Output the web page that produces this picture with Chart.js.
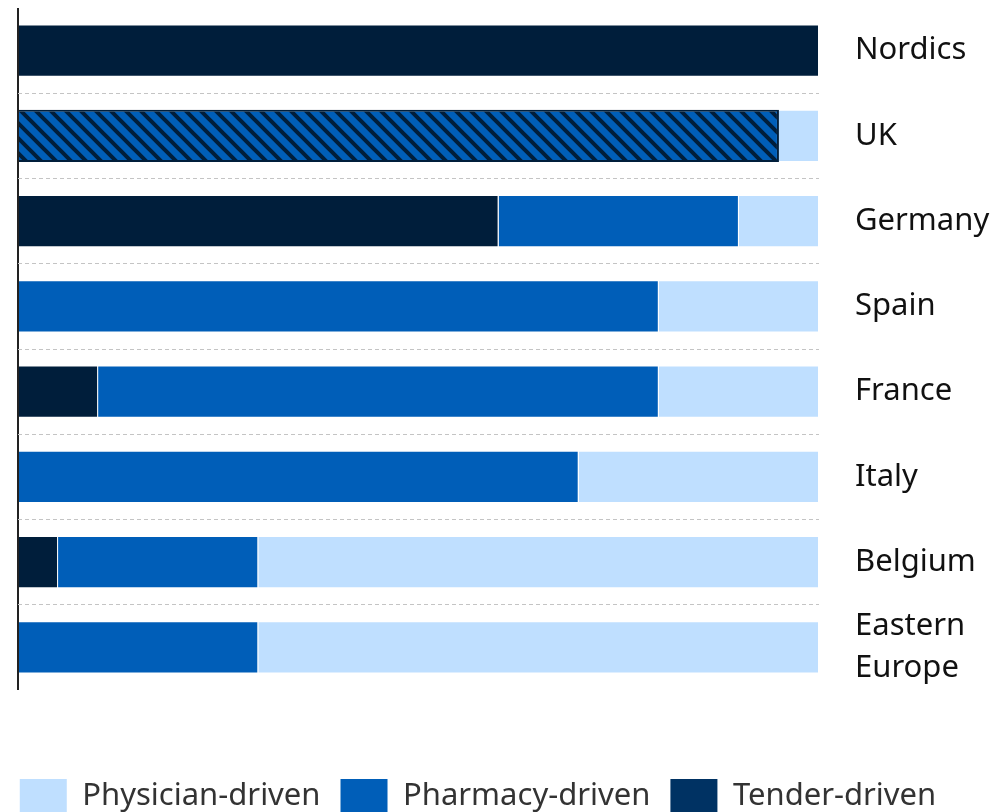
<!DOCTYPE html>
<html>
<head>
<meta charset="utf-8">
<script src="https://cdn.jsdelivr.net/npm/chart.js@4"></script>
<style>
  html, body { margin: 0; padding: 0; background: #fff; }
  #wrap { width: 997px; height: 812px; }
</style>
</head>
<body>
<div id="wrap"><canvas id="chart"></canvas></div>
<script>
// market access channel split by region (%)
const regions = ['Nordics', 'UK', 'Germany', 'Spain', 'France', 'Italy', 'Belgium', ['Eastern', 'Europe']];
const tenderDriven    = [100, 0, 60, 0, 10, 0, 5, 0];
const mixedDriven     = [0, 95, 0, 0, 0, 0, 0, 0];   // UK: hatched pharmacy/tender
const pharmacyDriven  = [0, 0, 30, 80, 70, 70, 25, 30];
const physicianDriven = [0, 5, 10, 20, 20, 30, 70, 70];

const colPhysician = '#bfdfff';
const colPharmacy = '#005eb8';
const colTender = '#001e3b';
const colTenderLegend = '#003263';

function makeHatch() {
    const c = document.createElement('canvas');
    c.width = 15; c.height = 15;
    const g = c.getContext('2d');
    g.fillStyle = colPharmacy;
    g.fillRect(0, 0, 15, 15);
    g.strokeStyle = colTender;
    g.lineWidth = 4;
    g.beginPath();
    g.moveTo(-15, -15); g.lineTo(30, 30);
    g.moveTo(-15, 0); g.lineTo(15, 30);
    g.moveTo(0, -15); g.lineTo(30, 15);
    g.stroke();
    return g.createPattern(c, 'repeat');
}

// legend sits a bit left of centre in the original
const legendShift = {
    id: 'legendShift',
    afterLayout: (chart) => {
        if (chart.legend) {
            chart.legend.left -= 27;
            chart.legend.right -= 27;
        }
    }
};

const ctx = document.getElementById('chart');
new Chart(ctx, {
    type: 'bar',
    data: {
        labels: regions,
        datasets: [
            { label: 'Tender-driven', data: tenderDriven, backgroundColor: colTender, borderColor: '#fff', borderWidth: 1 },
            { label: 'mixed', data: mixedDriven, backgroundColor: makeHatch(), borderColor: colTender, borderWidth: 2 },
            { label: 'Pharmacy-driven', data: pharmacyDriven, backgroundColor: colPharmacy, borderColor: '#fff', borderWidth: 1 },
            { label: 'Physician-driven', data: physicianDriven, backgroundColor: colPhysician, borderColor: '#fff', borderWidth: 1 }
        ]
    },
    options: {
        indexAxis: 'y',
        responsive: true,
        maintainAspectRatio: false,
        animation: false,
        barPercentage: 0.61,
        categoryPercentage: 1,
        layout: { padding: { left: 18, top: 8, right: 5, bottom: -11 } },
        scales: {
            x: {
                stacked: true,
                min: 0,
                max: 100,
                ticks: { display: false },
                border: { display: false },
                grid: {
                    drawTicks: false,
                    lineWidth: 2,
                    color: (c) => (c.tick && c.tick.value === 0 ? '#222' : 'transparent')
                },
                afterFit: (scale) => { scale.height = 69; }
            },
            y: {
                stacked: true,
                position: 'right',
                border: { display: false, dash: [4, 3] },
                ticks: {
                    color: '#111',
                    padding: 36,
                    autoSkip: false,
                    crossAlign: 'near',
                    font: { family: 'Noto Sans', size: 31, lineHeight: 1.35 }
                },
                grid: {
                    offset: true,
                    drawTicks: false,
                    lineWidth: 1,
                    color: (c) => (c.index === 0 || !c.tick ? 'transparent' : '#c4c4c4')
                },
                afterFit: (scale) => {
                    scale.width = 173;
                    scale.paddingTop = 0;
                    scale.paddingBottom = 0;
                }
            }
        },
        plugins: {
            tooltip: { enabled: false },
            legend: {
                position: 'bottom',
                reverse: true,
                labels: {
                    color: '#333',
                    boxWidth: 47,
                    boxHeight: 34,
                    padding: 20,
                    font: { family: 'Noto Sans', size: 31 },
                    filter: (item) => item.text !== 'mixed',
                    generateLabels: (chart) => {
                        const items = Chart.defaults.plugins.legend.labels.generateLabels(chart);
                        items.forEach((it) => {
                            it.lineWidth = 0;
                            it.strokeStyle = 'transparent';
                            if (it.text === 'Tender-driven') it.fillStyle = colTenderLegend;
                        });
                        return items;
                    }
                }
            }
        }
    },
    plugins: [legendShift]
});
</script>
</body>
</html>
